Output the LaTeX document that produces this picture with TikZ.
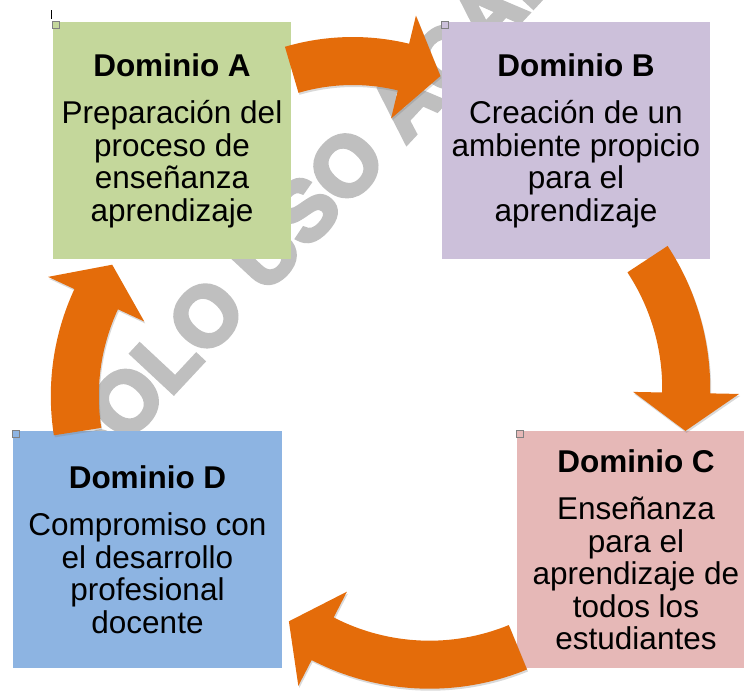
\documentclass[tikz,border=0pt]{standalone}
\usepackage{fontspec}
\setmainfont{Liberation Sans}
\newfontfamily\markfont{Liberation Sans}[BoldFeatures={FakeBold=5}]
\usetikzlibrary{calc,shadows}

\definecolor{domgreen}{HTML}{C4D79B}
\definecolor{dompurple}{HTML}{CCC0DA}
\definecolor{dompink}{HTML}{E6B8B7}
\definecolor{domblue}{HTML}{8DB4E2}
\definecolor{cycleorange}{HTML}{E46C0A}
\definecolor{markgray}{RGB}{191,191,191}

\tikzset{
  dombox/.style={minimum width=238pt, minimum height=237pt, inner sep=0pt,
    align=center, font=\fontsize{31.5}{32.5}\selectfont},
  cyclefill/.style={fill=cycleorange,
    drop shadow={shadow xshift=1pt, shadow yshift=-2pt, opacity=.3}},
  handle/.style={draw=gray, line width=1.2pt},
}

% bent block arrow round centre #1: radius #2, from angle #3 to angle #4
\newcommand{\cyclearrow}[4]{%
  \pgfmathsetmacro{\arcout}{#2+24}\pgfmathsetmacro{\arcin}{#2-24}%
  \pgfmathsetmacro{\headout}{#2+53}\pgfmathsetmacro{\headin}{#2-53}%
  \pgfmathsetmacro{\tipang}{#4+atan(38/#2)}%
  \pgfmathsetmacro{\tiprad}{10*sqrt((#2/10)^2+14.44)}%
  \fill[cyclefill] ($(#1)+(#3:\arcout)$) arc[start angle=#3, end angle=#4, radius=\arcout]
    -- ($(#1)+(#4:\headout)$) -- ($(#1)+(\tipang:\tiprad)$) -- ($(#1)+(#4:\headin)$)
    -- ($(#1)+(#4:\arcin)$) arc[start angle=#4, end angle=#3, radius=\arcin] -- cycle;}

\begin{document}
\begin{tikzpicture}[x=1pt,y=-1pt]
  \path[use as bounding box] (0,0) rectangle (744,694);
  \clip (0,0) rectangle (744,694);

  % watermark behind everything
  \node[rotate=47, anchor=base west, inner sep=0pt, text=markgray,
    font=\markfont\fontsize{84}{84}\bfseries\selectfont] (mark) at (87,486) {SOLO USO ACADÉMICO};

  % the four domains
  \node[dombox, fill=domgreen] (domA) at (172,140.5)
    {\textbf{Dominio A}\\[15pt]Preparación del\\proceso de\\enseñanza\\aprendizaje};
  \node[dombox, fill=dompurple, minimum width=268pt] (domB) at (576,140.5)
    {\textbf{Dominio B}\\[15pt]Creación de un\\ambiente propicio\\para el\\aprendizaje};
  \node[dombox, fill=dompink] (domC) at (636,549.5)
    {\textbf{Dominio C}\\[15pt]Enseñanza\\para el\\aprendizaje de\\todos los\\estudiantes};
  \node[dombox, fill=domblue, minimum width=269pt] (domD) at (147.5,549.5)
    {\textbf{Dominio D}\\[15pt]Compromiso con\\el desarrollo\\profesional\\docente};

  % selection handles
  \foreach \b in {domA,domB,domC,domD}
    \draw[handle] (\b.north west) rectangle +(7,7);
  \draw[line width=1pt] (51,10) -- (51,19);

  % cycle arrows
  \coordinate (cAB) at (352.7,277);
  \cyclearrow{cAB}{216}{-106.4}{-76.4}
  \coordinate (cBC) at (450.7,388.4);
  \cyclearrow{cBC}{235.5}{-33.3}{1.1}
  \coordinate (cCD) at (429.5,431.7);
  \cyclearrow{cCD}{233}{67.7}{117.3}
  \coordinate (cDA) at (304.8,396);
  \cyclearrow{cDA}{230}{171.1}{204.9}
\end{tikzpicture}
\end{document}
